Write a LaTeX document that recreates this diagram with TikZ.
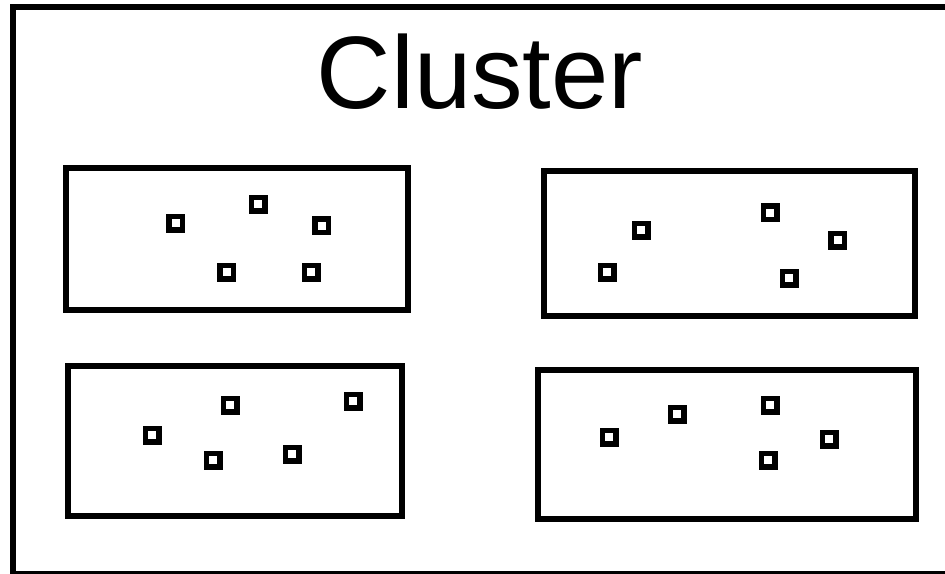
\documentclass[tikz,border=0pt]{standalone}
\usepackage{fontspec}
\setmainfont{Liberation Sans}
\usetikzlibrary{positioning}

\begin{document}
\begin{tikzpicture}[
  x=1pt, y=-1pt,
  group/.style={draw, line width=6pt, inner sep=0pt},
  member/.style={draw, line width=5.5pt, inner sep=0pt, minimum size=13.5pt},
  heading/.style={font=\fontsize{103}{110}\selectfont, inner sep=0pt, anchor=base}
]
\useasboundingbox (0,0) rectangle (945,573);
\clip (0,0) rectangle (945,573);
% outer frame, runs off the right and bottom edges
\draw[line width=6pt] (13,7) rectangle (960,573.5);
\node[heading] (title) at (480,108) {Cluster};
% the four groups
\node[group, minimum width=342pt, minimum height=142pt] (gA) at (237,239) {};
\node[group, minimum width=370.5pt, minimum height=145pt] (gB) at (729.25,243.5) {};
\node[group, minimum width=333.7pt, minimum height=150pt] (gC) at (234.85,440.5) {};
\node[group, minimum width=378.5pt, minimum height=149.6pt] (gD) at (726.75,444.5) {};
% members of group A
\node[member] (a1) at (175.7,223.3) {};
\node[member] (a2) at (258,204.3) {};
\node[member] (a3) at (321.7,225.7) {};
\node[member] (a4) at (226.7,272) {};
\node[member] (a5) at (311,272) {};
% members of group B
\node[member] (b1) at (641,230) {};
\node[member] (b2) at (607.3,272.3) {};
\node[member] (b3) at (770,212.7) {};
\node[member] (b4) at (837.7,240.3) {};
\node[member] (b5) at (789.3,278.3) {};
% members of group C
\node[member] (c1) at (152.3,435) {};
\node[member] (c2) at (230.3,405.3) {};
\node[member] (c3) at (353,401.3) {};
\node[member] (c4) at (213.3,460.3) {};
\node[member] (c5) at (292,454) {};
% members of group D
\node[member] (d1) at (609.3,437.3) {};
\node[member] (d2) at (677.3,414) {};
\node[member] (d3) at (770.3,405.3) {};
\node[member] (d4) at (829.3,439.3) {};
\node[member] (d5) at (768,460.3) {};
\end{tikzpicture}
\end{document}
